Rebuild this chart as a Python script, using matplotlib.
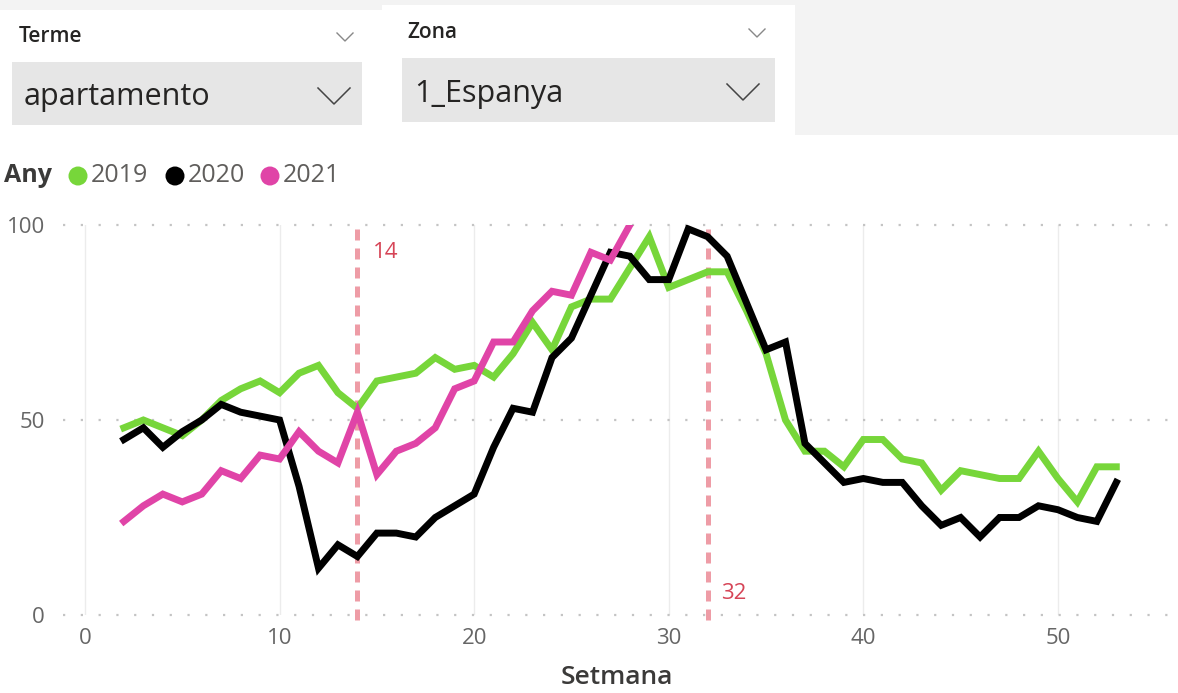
import matplotlib
matplotlib.use('Agg')
import matplotlib.pyplot as plt
from matplotlib.patches import Rectangle, Circle
from matplotlib.lines import Line2D

plt.rcParams['font.family'] = ['Open Sans', 'DejaVu Sans']

# data (index per week, Setmana)
weeks = list(range(2, 54))
y2019 = [48, 50, 48, 46, 50, 55, 58, 60, 57, 62, 64, 57, 53, 60, 61, 62, 66, 63, 64, 61,
         67, 75, 68, 79, 81, 81, 89, 97, 84, 86, 88, 88, 78, 67, 50, 42, 42, 38, 45, 45,
         40, 39, 32, 37, 36, 35, 35, 42, 35, 29, 38, 38]
y2020 = [45, 48, 43, 47, 50, 54, 52, 51, 50, 33, 12, 18, 15, 21, 21, 20, 25, 28, 31, 43,
         53, 52, 66, 71, 82, 93, 92, 86, 86, 99, 97, 92, 80, 68, 70, 44, 39, 34, 35, 34,
         34, 28, 23, 25, 20, 25, 25, 28, 27, 25, 24, 34]
weeks2021 = list(range(2, 29))
y2021 = [24, 28, 31, 29, 31, 37, 35, 41, 40, 47, 42, 39, 52, 36, 42, 44, 48, 58, 60, 70,
         70, 78, 83, 82, 93, 91, 100]
years = ['2019', '2020', '2021']
colors = ['#77d63a', '#000000', '#e044a7']
marks = [14, 32]
xticks = [0, 10, 20, 30, 40, 50]
yticks = [0, 50, 100]

W, H = 1178, 693
fig = plt.figure(figsize=(W / 100, H / 100), dpi=100)
fig.patch.set_facecolor('white')

def fx(x):
    return x / W

def fy(y):
    return 1 - y / H

def rect(x0, y0, x1, y1, color):
    fig.patches.append(Rectangle((fx(x0), fy(y1)), fx(x1) - fx(x0), fy(y0) - fy(y1),
                                 transform=fig.transFigure, facecolor=color,
                                 edgecolor='none', zorder=0))

def chevron(xc, yc, w, h, color, lw):
    fig.lines.append(Line2D([fx(xc - w / 2), fx(xc), fx(xc + w / 2)],
                            [fy(yc - h / 2), fy(yc + h / 2), fy(yc - h / 2)],
                            transform=fig.transFigure, color=color, lw=lw))

# slicer panels at the top
rect(0, 0, W, 135, '#f3f3f3')
rect(0, 10, 383, 135, 'white')
rect(382, 5, 795, 135, 'white')
rect(12, 62, 362, 125, '#e6e6e6')
rect(402, 58, 775, 122, '#e6e6e6')

fig.text(fx(19), fy(36), 'Terme', fontsize=15, fontweight='semibold', color='#252423', va='center')
fig.text(fx(407), fy(32), 'Zona', fontsize=15, fontweight='semibold', color='#252423', va='center')
fig.text(fx(24), fy(97), 'apartamento', fontsize=22, color='#252423', va='center')
fig.text(fx(414), fy(94), '1_Espanya', fontsize=22, color='#252423', va='center')
chevron(345, 37, 16, 8, '#888888', 1.0)
chevron(757, 33, 16, 8, '#888888', 1.0)
chevron(334, 96, 32, 16, '#444444', 1.1)
chevron(743, 92, 32, 16, '#444444', 1.1)

# legend
fig.text(fx(4), fy(176), 'Any', fontsize=18, fontweight='bold', color='#3b3a39', va='center')
for xc, lab, c in zip([78, 175, 270], years, colors):
    fig.patches.append(Circle((xc / 100, (H - 176) / 100), 0.095,
                              transform=fig.dpi_scale_trans,
                              facecolor=c, edgecolor='none'))
    fig.text(fx(xc + 13), fy(176), lab, fontsize=18, color='#605e5c', va='center')

# chart
ax = fig.add_axes([fx(63), fy(615), fx(1170) - fx(63), fy(225) - fy(615)])
ax.set_xlim(-1.13, 55.76)
ax.set_ylim(0, 100)

for x in xticks:
    ax.axvline(x, color='#ececec', lw=1, zorder=0)
for y in yticks:
    ax.axhline(y, color='#c4c4c4', lw=1.6, linestyle=(0, (1, 7)), zorder=0, clip_on=False)

for m in marks:
    ax.axvline(m, color='#ee9ca6', lw=3.6, linestyle=(0, (2.2, 1.6)), zorder=1,
               ymin=-0.013, ymax=1, clip_on=False)
ax.text(14.8, 93, '14', fontsize=16, color='#d64557', va='center')
ax.text(32.7, 5.6, '32', fontsize=16, color='#d64557', va='center')

ax.plot(weeks, y2019, color=colors[0], lw=5, solid_joinstyle='miter', zorder=3)
ax.plot(weeks, y2020, color=colors[1], lw=5, solid_joinstyle='miter', zorder=4)
ax.plot(weeks2021, y2021, color=colors[2], lw=5, solid_joinstyle='miter', zorder=5)

ax.set_xticks(xticks)
ax.set_yticks(yticks)
ax.tick_params(length=0, labelsize=16, labelcolor='#666666')
ax.tick_params(axis='x', pad=9)
ax.tick_params(axis='y', pad=13)
for s in ax.spines.values():
    s.set_visible(False)
ax.set_facecolor('none')
ax.set_xlabel('Setmana', fontsize=19, fontweight='semibold', color='#3b3a39', labelpad=12)

fig.savefig('out.png', dpi=100)
